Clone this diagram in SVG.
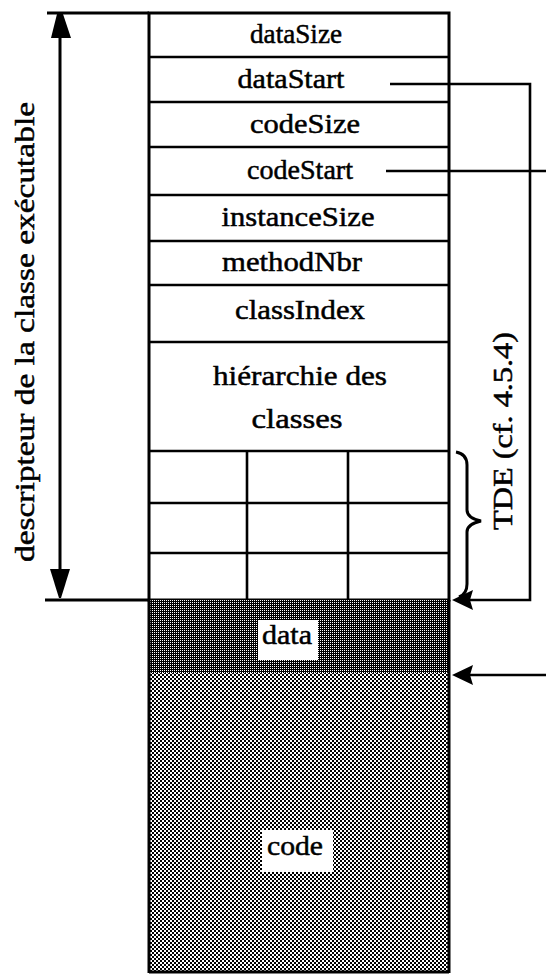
<svg xmlns="http://www.w3.org/2000/svg" width="546" height="977" viewBox="0 0 546 977">
<style>
.t{font-family:"Liberation Serif","Times New Roman",serif;font-size:28px;fill:#000;stroke:#000;stroke-width:0.5;text-anchor:middle}
.b{fill:none;stroke:#000;stroke-width:3}
.d{fill:none;stroke:#000;stroke-width:2.6}
.c{fill:none;stroke:#000;stroke-width:2.6}
.ah{fill:#000;stroke:none}
</style>
<defs>
<pattern id="pd" width="2" height="2" patternUnits="userSpaceOnUse">
<rect width="2" height="2" fill="#000"/><rect width="1" height="1" fill="#fff"/>
</pattern>
<pattern id="pc" width="4" height="4" patternUnits="userSpaceOnUse">
<rect width="4" height="4" fill="#fff"/><rect width="2" height="2" fill="#000"/><rect x="2" y="2" width="2" height="2" fill="#000"/>
</pattern>
</defs>
<g id="descriptor">
<rect x="149" y="13" width="300" height="587" fill="#fff" class="b"/>
<line class="d" x1="149" y1="57" x2="449" y2="57"/>
<line class="d" x1="149" y1="102" x2="449" y2="102"/>
<line class="d" x1="149" y1="147" x2="449" y2="147"/>
<line class="d" x1="149" y1="195" x2="449" y2="195"/>
<line class="d" x1="149" y1="241" x2="449" y2="241"/>
<line class="d" x1="149" y1="285" x2="449" y2="285"/>
<line class="d" x1="149" y1="342" x2="449" y2="342"/>
<line class="d" x1="149" y1="451" x2="449" y2="451"/>
<line class="d" x1="149" y1="503" x2="449" y2="503"/>
<line class="d" x1="149" y1="553" x2="449" y2="553"/>
<line class="d" x1="247" y1="451" x2="247" y2="600"/>
<line class="d" x1="348" y1="451" x2="348" y2="600"/>
</g>
<g id="fields">
<text class="t" x="296" y="43" textLength="92" lengthAdjust="spacingAndGlyphs">dataSize</text>
<text class="t" x="291" y="88" textLength="107" lengthAdjust="spacingAndGlyphs">dataStart</text>
<text class="t" x="305" y="133" textLength="110" lengthAdjust="spacingAndGlyphs">codeSize</text>
<text class="t" x="300" y="179" textLength="106" lengthAdjust="spacingAndGlyphs">codeStart</text>
<text class="t" x="298" y="226" textLength="153" lengthAdjust="spacingAndGlyphs">instanceSize</text>
<text class="t" x="292" y="271" textLength="140" lengthAdjust="spacingAndGlyphs">methodNbr</text>
<text class="t" x="300" y="319" textLength="130" lengthAdjust="spacingAndGlyphs">classIndex</text>
<text class="t" x="300" y="385" textLength="174" lengthAdjust="spacingAndGlyphs">hiérarchie des</text>
<text class="t" x="297" y="428" textLength="91" lengthAdjust="spacingAndGlyphs">classes</text>
</g>
<g id="data">
<rect x="149" y="600" width="300" height="73" fill="url(#pd)"/>
<rect x="258" y="620" width="60" height="40" fill="#fff"/>
<text class="t" x="287" y="644" textLength="50" lengthAdjust="spacingAndGlyphs">data</text>
</g>
<g id="code">
<rect x="149" y="673" width="300" height="299" fill="url(#pc)"/>
<rect x="262" y="830" width="71" height="42" fill="#fff"/>
<text class="t" x="295" y="855" textLength="56" lengthAdjust="spacingAndGlyphs">code</text>
</g>
<g id="outline">
<line class="b" x1="149" y1="600" x2="149" y2="973"/>
<line class="b" x1="449" y1="600" x2="449" y2="973"/>
<line class="b" x1="149" y1="972" x2="449" y2="972"/>
</g>
<g id="size-label">
<line class="b" x1="47" y1="13" x2="149" y2="13"/>
<line class="b" x1="45" y1="600" x2="149" y2="600"/>
<line class="b" x1="60" y1="30" x2="60" y2="580"/>
<polygon class="ah" points="57,14 63,14 71,38 51,38"/>
<polygon class="ah" points="50,569 70,569 61,598 59,598"/>
<text class="t" transform="translate(34,332) rotate(-90)" x="0" y="0" textLength="460" lengthAdjust="spacingAndGlyphs">descripteur de la classe exécutable</text>
</g>
<g id="tde">
<path class="b" d="M456 452 Q467 454 467 465 L467 510 Q467 518 481 521 Q467 524 467 532 L467 584 Q467 594 459 597"/>
<text class="t" transform="translate(512,431) rotate(-90)" x="0" y="0" textLength="198" lengthAdjust="spacingAndGlyphs">TDE  (cf.  4.5.4)</text>
</g>
<g id="connectors">
<polyline class="c" points="390,84 530,84 530,600 470,600"/>
<polygon class="ah" points="452,600 473,590 470,600 473,610"/>
<line class="c" x1="386" y1="171" x2="546" y2="171"/>
<line class="c" x1="546" y1="675" x2="470" y2="675"/>
<polygon class="ah" points="452,675 473,665 470,675 473,685"/>
</g>
</svg>
